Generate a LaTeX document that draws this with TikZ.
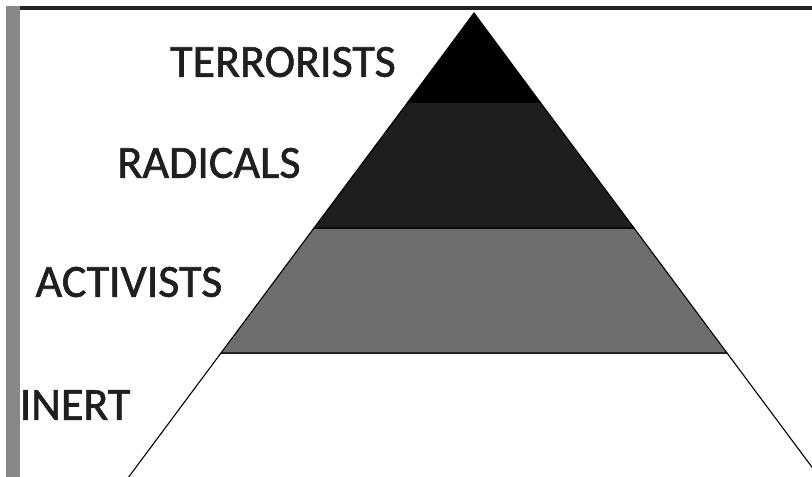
\documentclass[tikz,border=0pt]{standalone}
\usepackage{fontspec}
\setmainfont{Carlito}
\newfontfamily\labelfont{Carlito}[RawFeature={embolden=1.3}]
\usepackage{tikz}
\usetikzlibrary{positioning}
\definecolor{bandDark}{HTML}{1E1E1E}
\definecolor{bandGray}{HTML}{6E6E6E}
\definecolor{frameGray}{HTML}{888888}
\definecolor{frameDark}{HTML}{222222}

\begin{document}
\begin{tikzpicture}[x=1pt,y=-1pt,
  level label/.style={font=\labelfont\fontsize{46}{50}\selectfont,inner sep=0pt,text=black!88},
  band/.style={draw=black,line width=1.1pt,line join=miter}]
  \useasboundingbox (0,0) rectangle (812,477);
  \fill[white] (0,0) rectangle (812,477);

  % frame of the slide
  \fill[frameGray] (6,6) rectangle (20,477);
  \fill[frameDark] (20,6) rectangle (812,10);

  \coordinate (Apex) at (474,13);
  \coordinate (L1) at (408,102); \coordinate (R1) at (540,102);
  \coordinate (L2) at (314,228); \coordinate (R2) at (634,228);
  \coordinate (L3) at (221,353); \coordinate (R3) at (727,353);
  \coordinate (L4) at (119,490); \coordinate (R4) at (829,490);

  \begin{scope}
    \clip (20,10) rectangle (812,477);
    \filldraw[band,fill=white] (L3) -- (R3) -- (R4) -- (L4) -- cycle;
    \filldraw[band,fill=bandGray] (L2) -- (R2) -- (R3) -- (L3) -- cycle;
    \filldraw[band,fill=bandDark] (L1) -- (R1) -- (R2) -- (L2) -- cycle;
    \filldraw[band,fill=black] (Apex) -- (R1) -- (L1) -- cycle;
  \end{scope}

  \node[level label] (TERR) at (283,62) {TERRORISTS};
  \node[level label] (RAD) at (209,163) {RADICALS};
  \node[level label] (ACT) at (129,282) {ACTIVISTS};
  \node[level label] (INERT) at (75,405) {INERT};
\end{tikzpicture}
\end{document}
